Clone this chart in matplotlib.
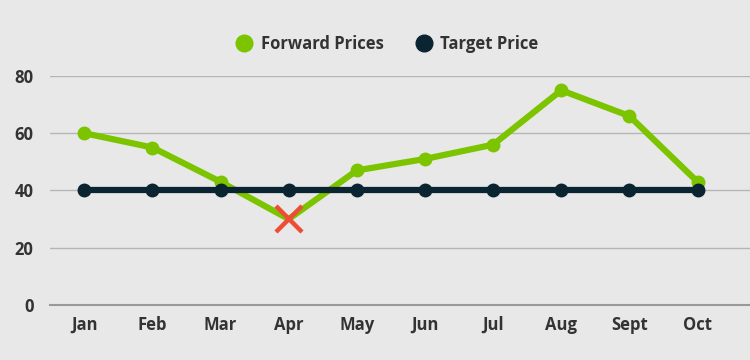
import os
import matplotlib.pyplot as plt
from matplotlib import font_manager as fm

# data
months = ["Jan", "Feb", "Mar", "Apr", "May", "Jun", "Jul", "Aug", "Sept", "Oct"]
forward = [60, 55, 43, 30, 47, 51, 56, 75, 66, 43]
target = [40, 40, 40, 40, 40, 40, 40, 40, 40, 40]
miss_idx = 3  # month where forward price falls below target

bg = "#e8e8e8"
green = "#7cc400"
navy = "#0b2431"
text_col = "#333333"

# use the regular-width Open Sans Bold file
bold_path = "/usr/share/fonts/truetype/open-sans/OpenSans-Bold.ttf"
if os.path.exists(bold_path):
    fp = fm.FontProperties(fname=bold_path, size=12)
else:
    fp = fm.FontProperties(family="DejaVu Sans", weight="bold", size=12)

fig = plt.figure(figsize=(7.5, 3.6), dpi=100, facecolor=bg)
ax = fig.add_axes([0.067, 0.153, 0.933, 0.636], facecolor=bg)

x = list(range(len(months)))
fwd_markers = [i for i in x if i != miss_idx]
ax.plot(x, forward, color=green, lw=4.5, marker="o", ms=9,
        markevery=fwd_markers, zorder=3, solid_capstyle="round")
ax.plot(x, target, color=navy, lw=4.5, marker="o", ms=9, zorder=4)
ax.plot(x[miss_idx], forward[miss_idx], marker="x", color="#ef4c37",
        ms=19, mew=3.2, ls="none", zorder=5)

ax.set_xlim(-0.5, 9.77)
ax.set_ylim(0, 80)
ax.set_yticks([0, 20, 40, 60, 80])
ax.set_xticks(x)
ax.set_xticklabels(months)
ax.yaxis.grid(True, color="#b5b5b5", lw=1)
ax.set_axisbelow(True)
for s in ax.spines.values():
    s.set_visible(False)
ax.axhline(0, color="#999999", lw=1.5, zorder=1)
ax.tick_params(length=0, labelcolor=text_col, pad=8)
ax.tick_params(axis="y", pad=12)
for lab in ax.get_xticklabels() + ax.get_yticklabels():
    lab.set_fontproperties(fp)
for line in ax.lines:
    line.set_clip_on(False)

h1 = plt.Line2D([], [], color=green, marker="o", ls="none", ms=12)
h2 = plt.Line2D([], [], color=navy, marker="o", ls="none", ms=12)
fig.legend([h1, h2], ["Forward Prices", "Target Price"], loc="center",
           bbox_to_anchor=(0.515, 0.878), ncol=2, frameon=False,
           prop=fp, labelcolor=text_col,
           handlelength=1.2, handletextpad=0.4, columnspacing=1.8)

fig.savefig("out.png", dpi=100, facecolor=bg)
